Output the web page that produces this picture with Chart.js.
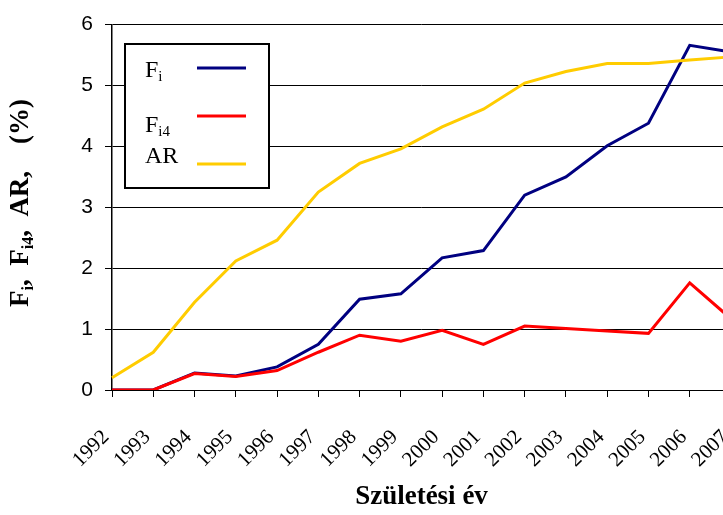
<!DOCTYPE html>
<html>
<head>
<meta charset="utf-8">
<script src="https://cdn.jsdelivr.net/npm/chart.js@4/dist/chart.umd.min.js"></script>
<style>
  html, body { margin: 0; padding: 0; background: #fff; overflow: hidden; width: 723px; height: 515px; }
  #wrap { position: absolute; left: 0; top: 0; width: 760px; height: 515px; }
</style>
</head>
<body>
<div id="wrap"><canvas id="chart" width="760" height="515"></canvas></div>
<script>
// Birth years on the category axis
const years = ['1992', '1993', '1994', '1995', '1996', '1997', '1998', '1999',
               '2000', '2001', '2002', '2003', '2004', '2005', '2006', '2007'];

// Series values, percent
const fiValues  = [0.00, 0.00, 0.28, 0.23, 0.38, 0.75, 1.49, 1.58, 2.17, 2.29, 3.20, 3.50, 4.01, 4.38, 5.66, 5.55];
const fi4Values = [0.00, 0.00, 0.27, 0.22, 0.32, 0.62, 0.90, 0.80, 0.98, 0.75, 1.05, 1.01, 0.97, 0.93, 1.76, 1.17];
const arValues  = [0.20, 0.62, 1.44, 2.12, 2.46, 3.25, 3.72, 3.96, 4.32, 4.61, 5.04, 5.23, 5.36, 5.36, 5.42, 5.47];

// Series names: text after "_" is set as a subscript
const seriesNames  = ['F_i', 'F_i4', 'AR'];
const seriesColors = ['#000080', '#FF0000', '#FFCC00'];

// Value axis ticks
const yTicks = [0, 1, 2, 3, 4, 5, 6];

const xAxisTitle = 'Születési év';
// Value axis title, pieces: [text, isSubscript]
const yAxisTitleParts = [['F', false], ['i', true], [',  ', false], ['F', false], ['i4', true], [',  ', false], ['AR,', false], ['    (%)', false]];

const SERIF = '"Liberation Serif", "Times New Roman", serif';
const SANS = '"Liberation Sans", Arial, sans-serif';

function splitName(name) {
  const k = name.indexOf('_');
  return k < 0 ? [name, ''] : [name.slice(0, k), name.slice(k + 1)];
}

// Boxed legend (name left, line sample right) and the subscripted value-axis title
const decorations = {
  id: 'decorations',
  afterDraw(chart) {
    const ctx = chart.ctx;
    ctx.save();

    // legend box
    const bx = 125, by = 44, bw = 144, bh = 144;
    ctx.fillStyle = '#fff';
    ctx.fillRect(bx, by, bw, bh);
    ctx.strokeStyle = '#000';
    ctx.lineWidth = 2;
    ctx.strokeRect(bx, by, bw, bh);

    const lineY = [24, 72, 120];
    const textY = [33, 88, 119];
    chart.data.datasets.forEach((ds, i) => {
      const [main, sub] = splitName(seriesNames[i]);
      ctx.fillStyle = '#000';
      ctx.textBaseline = 'alphabetic';
      ctx.textAlign = 'left';
      ctx.font = '24px ' + SERIF;
      const tx = bx + 20;
      ctx.fillText(main, tx, by + textY[i]);
      if (sub) {
        const w = ctx.measureText(main).width;
        ctx.font = '15px ' + SERIF;
        ctx.fillText(sub, tx + w, by + textY[i] + 4);
      }
      ctx.strokeStyle = ds.borderColor;
      ctx.lineWidth = 3;
      ctx.beginPath();
      ctx.moveTo(bx + 72, by + lineY[i]);
      ctx.lineTo(bx + 121, by + lineY[i]);
      ctx.stroke();
    });

    // value axis title, reading upward
    ctx.translate(28, 307);
    ctx.rotate(-Math.PI / 2);
    ctx.fillStyle = '#000';
    ctx.textAlign = 'left';
    ctx.textBaseline = 'alphabetic';
    let x = 0;
    yAxisTitleParts.forEach(([t, isSub]) => {
      ctx.font = (isSub ? 'bold 16px ' : 'bold 27px ') + SERIF;
      ctx.fillText(t, x, isSub ? 5 : 0);
      x += ctx.measureText(t).width;
    });
    ctx.restore();
  }
};

new Chart(document.getElementById('chart'), {
  type: 'line',
  data: {
    labels: years,
    datasets: [
      { label: 'Fi',  data: fiValues,  borderColor: seriesColors[0], order: 2 },
      { label: 'Fi4', data: fi4Values, borderColor: seriesColors[1], order: 1 },
      { label: 'AR',  data: arValues,  borderColor: seriesColors[2], order: 0 }
    ].map(d => Object.assign(d, { borderWidth: 3, pointRadius: 0, tension: 0, fill: false }))
  },
  options: {
    responsive: false,
    devicePixelRatio: 1,
    animation: false,
    layout: { padding: { left: 0, top: 20, right: 29, bottom: 0 } },
    plugins: { legend: { display: false }, tooltip: { enabled: false } },
    scales: {
      x: {
        offset: false,
        grid: { display: true, drawOnChartArea: false, drawTicks: true, tickLength: 7, color: '#000', lineWidth: 1 },
        border: { display: true, color: '#000', width: 1 },
        ticks: {
          autoSkip: false, maxRotation: 45, minRotation: 45, padding: 28, labelOffset: -6,
          color: '#000', font: { family: SERIF, size: 21 }
        },
        title: {
          display: true, text: xAxisTitle, color: '#000',
          font: { family: SERIF, size: 27, weight: 'bold' }, padding: { top: 0, bottom: 2 }
        },
        afterFit(scale) { scale.height = 125; scale.paddingRight = 0; scale.paddingLeft = 0; }
      },
      y: {
        min: yTicks[0], max: yTicks[yTicks.length - 1],
        grid: { color: '#000', lineWidth: 1, drawTicks: true, tickLength: 7 },
        border: { display: true, color: '#000', width: 1.5 },
        ticks: {
          stepSize: 1, padding: 12, color: '#000',
          font: { family: SANS, size: 21 }
        },
        afterFit(scale) { scale.width = 112; }
      }
    }
  },
  plugins: [decorations]
});
</script>
</body>
</html>
